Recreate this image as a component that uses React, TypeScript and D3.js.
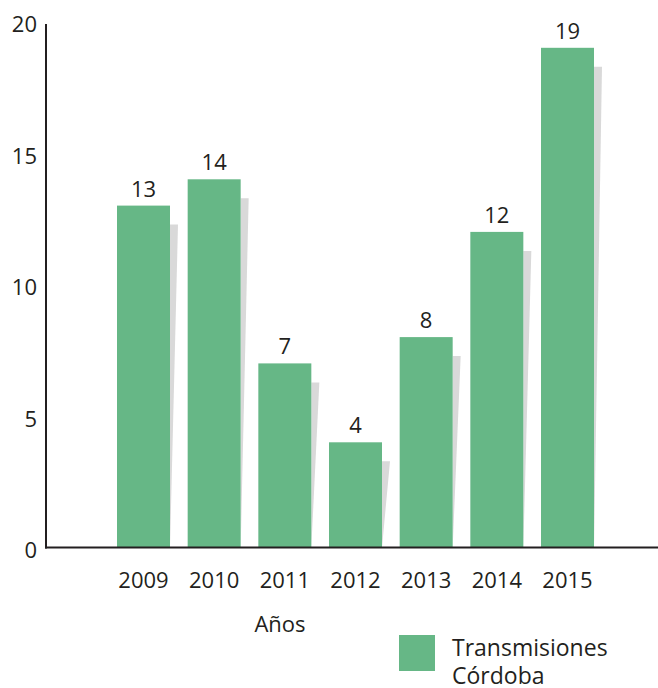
import React from "react";
import * as d3 from "d3";

const years = ["2009", "2010", "2011", "2012", "2013", "2014", "2015"];
const values = [13, 14, 7, 4, 8, 12, 19];
const yTicks = [0, 5, 10, 15, 20];
const seriesName = ["Transmisiones", "Córdoba"];
const xTitle = "Años";

const W = 658;
const H = 688;
const GREEN = "#66b786";
const SHADOW = "#d9d9d9";
const INK = "#231f20";
const FONT = "'Open Sans', 'Noto Sans', sans-serif";

export default function App() {
  const x = d3.scaleBand<string>().domain(years).range([117, 594]).paddingInner(0.25).paddingOuter(0);
  const y = d3.scaleLinear().domain([0, 20]).range([547.5, 21.5]);
  const bw = x.bandwidth();
  const base = y(0);

  return (
    <svg
      width={W}
      height={H}
      style={{ position: "absolute", left: 0, top: 0, background: "#fff" }}
      fontFamily={FONT}
    >
      {years.map((yr, i) => {
        const x0 = x(yr)!;
        const top = y(values[i]);
        const sTop = top + 19;
        return (
          <g key={yr}>
            <polygon
              points={`${x0 + bw},${sTop} ${x0 + bw + 8},${sTop} ${x0 + bw},${base}`}
              fill={SHADOW}
            />
            <rect x={x0} y={top} width={bw} height={base - top} fill={GREEN} />
            <text x={x0 + bw / 2} y={top - 9} textAnchor="middle" fontSize={22} fill={INK}>
              {values[i]}
            </text>
            <text x={x0 + bw / 2} y={588} textAnchor="middle" fontSize={22} fill={INK}>
              {yr}
            </text>
          </g>
        );
      })}
      {yTicks.map((t) => (
        <text key={t} x={37} y={y(t) + 10.5} textAnchor="end" fontSize={22} fill={INK}>
          {t}
        </text>
      ))}
      <line x1={46} y1={24} x2={46} y2={base + 1} stroke={INK} strokeWidth={2} />
      <line x1={45} y1={base} x2={W} y2={base} stroke={INK} strokeWidth={2} />
      <text x={280} y={632} textAnchor="middle" fontSize={22} fill={INK}>
        {xTitle}
      </text>
      <rect x={399} y={635} width={36} height={36} fill={GREEN} />
      <text x={452} y={656} fontSize={23} fill={INK}>
        {seriesName[0]}
      </text>
      <text x={452} y={684} fontSize={23} fill={INK}>
        {seriesName[1]}
      </text>
    </svg>
  );
}
